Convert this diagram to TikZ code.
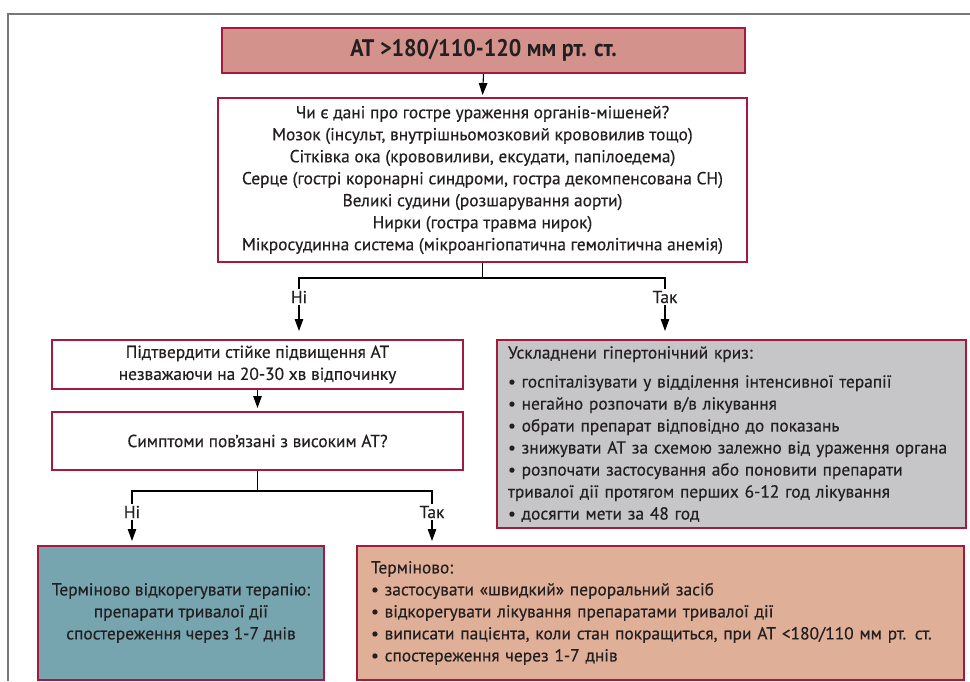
\documentclass[tikz,border=0pt]{standalone}
\usepackage{fontspec}
\setmainfont{PT Sans}[FakeBold=0.4]
\newfontfamily\titlefont{PT Sans Bold}[FakeStretch=0.92]
\usetikzlibrary{arrows.meta}
\definecolor{crim}{RGB}{163,26,62}
\definecolor{topfill}{RGB}{212,146,141}
\definecolor{grayfill}{RGB}{198,198,200}
\definecolor{tealfill}{RGB}{118,165,176}
\definecolor{salmonfill}{RGB}{224,175,152}
\definecolor{txt}{RGB}{35,31,32}
\definecolor{framegray}{RGB}{120,120,120}
\newcommand{\bodyfont}{\fontsize{17.4}{22}\selectfont}
\begin{document}
\begin{tikzpicture}[x=1pt,y=-1pt,
  box/.style={draw=crim, line width=2pt, inner sep=0pt, text=txt, font=\bodyfont},
  lbl/.style={inner sep=1.5pt, text=txt, font=\bodyfont},
  conn/.style={draw=black, line width=1.1pt},
  arr/.style={conn, -{Triangle[length=12pt,width=8.5pt]}}]
\useasboundingbox (0,0) rectangle (970,681);
\fill[white] (0,0) rectangle (970,681);
\draw[framegray, line width=1.6pt] (970,14) -- (8,14) -- (8,681);

\node[box, fill=topfill, minimum width=523pt, minimum height=45pt,
      font=\titlefont\fontsize{24}{26}\selectfont] (top) at (483.5,50.5) {АТ >180/110-120 мм рт. ст.};

\node[box, fill=white, minimum width=529pt, minimum height=164pt, align=center] (q1) at (482.5,180)
 {Чи є дані про гостре ураження органів-мішеней?\\
  Мозок (інсульт, внутрішньомозковий крововилив тощо)\\
  Сітківка ока (крововиливи, ексудати, папілоедема)\\
  Серце (гострі коронарні синдроми, гостра декомпенсована СН)\\
  Великі судини (розшарування аорти)\\
  Нирки (гостра травма нирок)\\
  Мікросудинна система (мікроангіопатична гемолітична анемія)};

\node[lbl] (no1) at (299,297) {Ні};
\node[lbl] (yes1) at (665,297) {Так};

\node[box, fill=white, minimum width=411pt, minimum height=49pt, align=center] (b3) at (257.5,364.5)
 {Підтвердити стійке підвищення АТ\\незважаючи на 20-30 хв відпочинку};

\node[box, fill=white, minimum width=411pt, minimum height=58pt] (b4) at (257.5,441)
 {Симптоми пов’язані з високим АТ?};

\node[box, fill=grayfill, minimum width=469pt, minimum height=188pt, text width=447pt, align=left] (crisis) at (731.5,434)
 {Ускладнени гіпертонічний криз:\\[7pt]
  • госпіталізувати у відділення інтенсивної терапії\\
  • негайно розпочати в/в лікування\\
  • обрати препарат відповідно до показань\\
  • знижувати АТ за схемою залежно від ураження органа\\
  • розпочати застосування або поновити препарати\\
  тривалої дії протягом перших 6-12 год лікування\\
  • досягти мети за 48 год};

\node[lbl] (no2) at (132,512) {Ні};
\node[lbl] (yes2) at (432,512) {Так};

\node[box, fill=tealfill, minimum width=286pt, minimum height=134pt, align=center] (teal) at (181,613)
 {Терміново відкорегувати терапію:\\препарати тривалої дії\\спостереження через 1-7 днів};

\node[box, fill=salmonfill, minimum width=607pt, minimum height=134pt, text width=579pt, align=left] (urg) at (660.5,613)
 {Терміново:\\
  • застосувати «швидкий» пероральний засіб\\
  • відкорегувати лікування препаратами тривалої дії\\
  • виписати пацієнта, коли стан покращиться, при АТ <180/110 мм рт. ст.\\
  • спостереження через 1-7 днів};

% connectors
\draw[arr, shorten >=2pt] (top.south) -- (q1.north);
\draw[conn] (q1.south) -- ++(0,15) coordinate (j1);
\draw[conn] (no1.north) |- (j1) -| (yes1.north);
\draw[arr, shorten >=8pt] (no1.south) -- (no1.south |- b3.north);
\draw[arr, shorten >=8pt] (yes1.south) -- (yes1.south |- crisis.north);
\draw[arr, shorten >=3pt] (b3.south) -- (b4.north);
\draw[conn] (b4.south) -- ++(0,20) coordinate (j2);
\draw[conn] (no2.north) |- (j2) -| (yes2.north);
\draw[arr, shorten >=4pt] (no2.south) -- (no2.south |- teal.north);
\draw[arr, shorten >=4pt] (yes2.south) -- (yes2.south |- urg.north);
\end{tikzpicture}
\end{document}
